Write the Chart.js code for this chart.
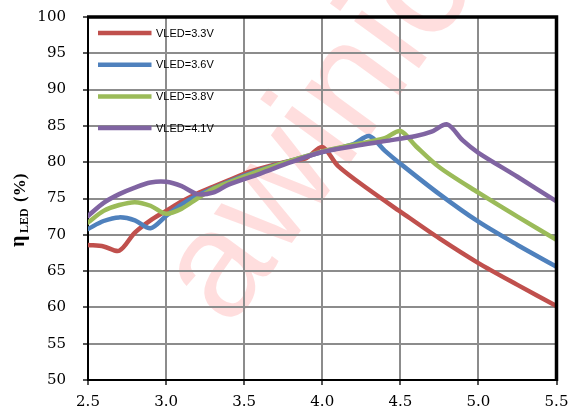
<!DOCTYPE html>
<html>
<head>
<meta charset="utf-8">
<script src="https://cdn.jsdelivr.net/npm/chart.js@4.4.1/dist/chart.umd.min.js"></script>
<style>
html,body{margin:0;padding:0;background:#fff;}
#wrap{width:568px;height:414px;position:relative;}
</style>
</head>
<body>
<div id="wrap"><canvas id="c" width="568" height="414"></canvas></div>
<script>
// ---- data ----
const seriesLabels = ['VLED=3.3V', 'VLED=3.6V', 'VLED=3.8V', 'VLED=4.1V'];

const x33 = [2.5, 2.6, 2.7, 2.8, 2.9, 3.0, 3.1, 3.2, 3.3, 3.4, 3.5, 3.6, 3.7, 3.8, 3.9, 4.0, 4.1, 4.3, 4.5, 4.75, 5.0, 5.25, 5.5];
const y33 = [68.6, 68.4, 67.8, 70.3, 72.0, 73.3, 74.6, 75.7, 76.6, 77.5, 78.4, 79.1, 79.7, 80.2, 80.6, 82.1, 79.5, 76.2, 73.2, 69.5, 66.1, 63.1, 60.2];

const x36 = [2.5, 2.6, 2.7, 2.8, 2.9, 3.0, 3.1, 3.2, 3.4, 3.6, 3.8, 4.0, 4.2, 4.3, 4.4, 4.5, 4.75, 5.0, 5.25, 5.5];
const y36 = [70.8, 71.9, 72.4, 72.0, 70.9, 72.6, 74.2, 75.4, 77.3, 78.9, 80.2, 81.4, 82.5, 83.6, 81.6, 79.8, 75.6, 71.8, 68.6, 65.6];

const x38 = [2.5, 2.6, 2.7, 2.8, 2.9, 3.0, 3.1, 3.2, 3.3, 3.4, 3.6, 3.8, 4.0, 4.2, 4.4, 4.5, 4.6, 4.75, 5.0, 5.25, 5.5];
const y38 = [71.7, 73.3, 74.1, 74.5, 74.0, 72.9, 73.6, 75.0, 76.3, 77.2, 78.8, 80.2, 81.5, 82.4, 83.3, 84.3, 82.2, 79.3, 75.8, 72.5, 69.3];

const x41 = [2.5, 2.6, 2.7, 2.8, 2.9, 3.0, 3.1, 3.2, 3.3, 3.4, 3.6, 3.8, 4.0, 4.2, 4.4, 4.6, 4.7, 4.8, 4.9, 5.0, 5.25, 5.5];
const y41 = [72.6, 74.4, 75.6, 76.5, 77.2, 77.3, 76.7, 75.6, 75.8, 76.9, 78.4, 80.0, 81.4, 82.2, 82.9, 83.6, 84.2, 85.2, 83.0, 81.3, 78.0, 74.6];

const xTicks = [2.5, 3.0, 3.5, 4.0, 4.5, 5.0, 5.5];
const yTicks = [50, 55, 60, 65, 70, 75, 80, 85, 90, 95, 100];

const colors = ['#C0504D', '#4F81BD', '#9BBB59', '#8064A2'];

function pts(xs, ys){ return xs.map((x,i)=>({x:x, y:ys[i]})); }

const allX = [x33, x36, x38, x41];
const allY = [y33, y36, y38, y41];

const datasets = seriesLabels.map((lab, i) => ({
  label: lab,
  data: pts(allX[i], allY[i]),
  borderColor: colors[i],
  backgroundColor: colors[i],
  borderWidth: 4.5,
  pointRadius: 0,
  showLine: true,
  fill: false,
  tension: 0.3,
  order: 4 - i,
  borderCapStyle: 'round',
  borderJoinStyle: 'round'
}));

// watermark behind everything
const watermark = {
  id: 'watermark',
  beforeDraw(chart){
    const ctx = chart.ctx;
    ctx.save();
    ctx.fillStyle = 'rgba(255,0,0,0.13)';
    const S = 152;
    ctx.translate(222, 272);
    ctx.rotate(-54 * Math.PI / 180);
    ctx.font = 'normal ' + S + 'px "Liberation Sans", Arial, sans-serif';
    ctx.textAlign = 'left';
    ctx.textBaseline = 'alphabetic';
    ctx.fillText('awinic', -0.278 * S, 0.26 * S);
    ctx.restore();
  }
};

// frame, legend, y title
const decor = {
  id: 'decor',
  afterDraw(chart){
    const ctx = chart.ctx;
    const a = chart.chartArea;
    ctx.save();
    // top & right thick borders
    ctx.strokeStyle = '#000';
    ctx.lineWidth = 3.5;
    ctx.beginPath();
    ctx.moveTo(a.left - 1, a.top);
    ctx.lineTo(a.right, a.top);
    ctx.lineTo(a.right, a.bottom + 1);
    ctx.stroke();

    // legend
    const x0 = a.left + 10, x1 = a.left + 63.5;
    ctx.font = '11px "Liberation Sans", Arial, sans-serif';
    ctx.textAlign = 'left';
    ctx.textBaseline = 'middle';
    chart.data.datasets.forEach((ds, i) => {
      const yy = a.top + 16 + i * 31.7;
      ctx.strokeStyle = ds.borderColor;
      ctx.lineWidth = 4.5;
      ctx.lineCap = 'butt';
      ctx.beginPath();
      ctx.moveTo(x0, yy);
      ctx.lineTo(x1, yy);
      ctx.stroke();
      ctx.fillStyle = '#000';
      ctx.fillText(ds.label, x1 + 4.5, yy + 0.5);
    });

    // y-axis title  ηLED (%)
    ctx.rotate(-Math.PI / 2);
    ctx.fillStyle = '#000';
    ctx.textBaseline = 'alphabetic';
    ctx.textAlign = 'left';
    ctx.font = 'bold 20px "Liberation Serif", "DejaVu Serif", serif';
    ctx.fillText('η', -247, 24);
    ctx.font = 'bold 12px "Liberation Serif", "DejaVu Serif", serif';
    ctx.fillText('LED', -233, 28);
    ctx.font = 'bold 17px "Liberation Serif", "DejaVu Serif", serif';
    ctx.fillText('(%)', -202, 24.5);
    ctx.restore();
  }
};

new Chart(document.getElementById('c'), {
  type: 'scatter',
  data: { datasets: datasets },
  plugins: [watermark, decor],
  options: {
    responsive: false,
    animation: false,
    events: [],
    layout: { padding: { left: 0, right: 11.5, top: 17, bottom: 0 } },
    plugins: {
      legend: { display: false },
      tooltip: { enabled: false },
      title: { display: false }
    },
    scales: {
      x: {
        type: 'linear',
        min: 2.5, max: 5.5,
        afterBuildTicks(scale){ scale.ticks = xTicks.map(v => ({value: v})); },
        afterFit(scale){ scale.height = 34; scale.paddingLeft = 0; scale.paddingRight = 0; },
        ticks: {
          callback: v => Number(v).toFixed(1),
          font: { family: '"DejaVu Serif", serif', size: 15 },
          color: '#000',
          padding: 8,
          maxRotation: 0,
          autoSkip: false
        },
        grid: { color: '#8c8c8c', lineWidth: 2, tickLength: 5, tickColor: '#555' },
        border: { color: '#000', width: 2 }
      },
      y: {
        type: 'linear',
        min: 50, max: 100,
        afterBuildTicks(scale){ scale.ticks = yTicks.map(v => ({value: v})); },
        afterFit(scale){ scale.width = 88; scale.paddingTop = 0; scale.paddingBottom = 0; },
        ticks: {
          callback: v => String(v),
          font: { family: '"DejaVu Serif", serif', size: 15 },
          color: '#000',
          padding: 17,
          autoSkip: false
        },
        grid: { color: '#8c8c8c', lineWidth: 2, tickLength: 5, tickColor: '#555' },
        border: { color: '#000', width: 2 }
      }
    }
  }
});
</script>
</body>
</html>
